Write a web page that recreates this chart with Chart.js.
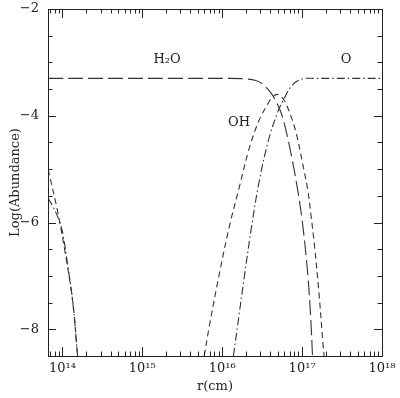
<!DOCTYPE html>
<html>
<head>
<meta charset="utf-8">
<script src="https://cdn.jsdelivr.net/npm/chart.js@4.4.1/dist/chart.umd.min.js"></script>
<style>
  body { margin: 0; background: #fff; }
  canvas { display: block; }
</style>
</head>
<body>
<canvas id="chart" width="400" height="398"></canvas>
<script>
// log10 of r (cm) and log abundance
let h2o_logr = [13.82, 15.5, 16.1, 16.3, 16.42, 16.5, 16.61, 16.69, 16.75, 16.81, 16.88, 16.94, 17.0, 17.07, 17.11, 17.13];
let h2o_val  = [-3.3, -3.3, -3.3, -3.31, -3.34, -3.4, -3.57, -3.78, -4.0, -4.35, -4.85, -5.35, -5.95, -6.95, -7.85, -8.5];

let oh_logr = [15.775, 15.84, 15.96, 16.09, 16.21, 16.34, 16.46, 16.57, 16.63, 16.69, 16.75, 16.8, 16.88, 16.94, 17.0, 17.07, 17.11, 17.15, 17.21, 17.26, 17.275];
let oh_val  = [-8.5, -7.93, -6.99, -6.07, -5.36, -4.6, -4.09, -3.78, -3.65, -3.6, -3.66, -3.78, -4.09, -4.41, -4.85, -5.38, -5.85, -6.36, -7.3, -8.25, -8.5];
let oh_inner_logr = [13.82, 13.93, 14.025, 14.13, 14.19];
let oh_inner_val  = [-5.0, -5.72, -6.48, -7.49, -8.5];

let o_logr = [16.14, 16.2, 16.28, 16.36, 16.46, 16.58, 16.69, 16.78, 16.88, 17.0, 17.15, 18.0];
let o_val  = [-8.5, -7.85, -6.98, -6.15, -5.25, -4.45, -3.95, -3.66, -3.42, -3.31, -3.3, -3.3];
let o_inner_logr = [13.82, 13.88, 13.94, 14.0, 14.066, 14.13, 14.19];
let o_inner_val  = [-5.54, -5.7, -5.89, -6.17, -6.8, -7.49, -8.5];

let x_decades = [14, 15, 16, 17, 18];
let y_labels = [-8, -6, -4, -2];

// text labels on the curves: [text, log r, log abundance]
let curve_labels = [["H\u2082O", 15.31, -2.94], ["O", 17.55, -2.94], ["OH", 16.21, -4.13]];

const XMIN = 6.6e13, XMAX = 1e18, YMIN = -8.5, YMAX = -2;
const ink = '#222';
const font = {family: 'DejaVu Serif', size: 13};

function pts(lr, v){
  let out = [];
  for(let i = 0; i < lr.length; i++){
    out.push({x: Math.pow(10, lr[i]), y: v[i]});
  }
  return out;
}
function sup(n){
  const m = {'0':'\u2070','1':'\u00b9','2':'\u00b2','3':'\u00b3','4':'\u2074','5':'\u2075','6':'\u2076','7':'\u2077','8':'\u2078','9':'\u2079'};
  return String(n).split('').map(c => m[c]).join('');
}
function line(data, dash){
  return {
    data: data, borderColor: '#333', borderWidth: 1.1, borderDash: dash,
    pointRadius: 0, fill: false, tension: 0.35
  };
}

// frame, inward ticks on all four sides, curve labels
const framePlugin = {
  id: 'frame',
  afterDraw(chart){
    let ctx = chart.ctx;
    let a = chart.chartArea;
    let xs = chart.scales.x, ys = chart.scales.y;
    ctx.save();
    ctx.strokeStyle = ink;
    ctx.lineWidth = 1;
    ctx.strokeRect(Math.round(a.left) + 0.5, Math.round(a.top) + 0.5, Math.round(a.right - a.left), Math.round(a.bottom - a.top));
    ctx.beginPath();
    // x ticks
    for(let d = 13; d <= 18; d++){
      for(let m = 1; m <= 9; m++){
        let v = m * Math.pow(10, d);
        if(v < XMIN || v > XMAX) continue;
        let px = Math.round(xs.getPixelForValue(v)) + 0.5;
        let len = (m == 1) ? 9 : 4.5;
        ctx.moveTo(px, a.bottom); ctx.lineTo(px, a.bottom - len);
        ctx.moveTo(px, a.top); ctx.lineTo(px, a.top + len);
      }
    }
    // y ticks
    for(let v = YMIN; v <= YMAX; v += 0.5){
      let py = Math.round(ys.getPixelForValue(v)) + 0.5;
      let len = (v % 2 == 0) ? 8 : 4.5;
      ctx.moveTo(a.left, py); ctx.lineTo(a.left + len, py);
      ctx.moveTo(a.right, py); ctx.lineTo(a.right - len, py);
    }
    ctx.stroke();
    ctx.fillStyle = ink;
    ctx.font = font.size + 'px ' + font.family;
    ctx.textAlign = 'center';
    ctx.textBaseline = 'middle';
    curve_labels.forEach(l => {
      ctx.fillText(l[0], xs.getPixelForValue(Math.pow(10, l[1])), ys.getPixelForValue(l[2]));
    });
    ctx.restore();
  }
};

let ctx = document.getElementById('chart').getContext('2d');
let chart = new Chart(ctx, {
  type: 'line',
  data: {
    datasets: [
      line(pts(h2o_logr, h2o_val), [15, 5]),
      line(pts(oh_logr, oh_val), [6, 4]),
      line(pts(oh_inner_logr, oh_inner_val), [6, 4]),
      line(pts(o_logr, o_val), [8, 3, 1.5, 3]),
      line(pts(o_inner_logr, o_inner_val), [8, 3, 1.5, 3])
    ]
  },
  options: {
    responsive: false,
    animation: false,
    layout: { padding: {left: 0, right: 18, top: 9, bottom: 0} },
    plugins: { legend: {display: false}, tooltip: {enabled: false} },
    scales: {
      x: {
        type: 'logarithmic', min: XMIN, max: XMAX,
        grid: {display: false, drawTicks: false},
        border: {display: false},
        afterBuildTicks: s => { s.ticks = x_decades.map(d => ({value: Math.pow(10, d)})); },
        afterFit: s => { s.height = 42; s.paddingLeft = 0; s.paddingRight = 0; },
        ticks: {
          padding: 5, maxRotation: 0, autoSkip: false, color: ink, font: font,
          callback: v => '10' + sup(Math.round(Math.log10(v)))
        },
        title: {display: true, text: 'r(cm)', color: ink, font: font, padding: {top: 0, bottom: 4}}
      },
      y: {
        min: YMIN, max: YMAX,
        grid: {display: false, drawTicks: false},
        border: {display: false},
        afterBuildTicks: s => { s.ticks = y_labels.map(v => ({value: v})); },
        afterFit: s => { s.width = 48; s.paddingTop = 0; s.paddingBottom = 0; },
        ticks: {
          padding: 9, color: ink, font: font,
          callback: v => '\u2212' + Math.abs(v)
        },
        title: {display: true, text: 'Log(Abundance)', color: ink, font: font, padding: {top: 8, bottom: 0}}
      }
    }
  },
  plugins: [framePlugin]
});
</script>
</body>
</html>
